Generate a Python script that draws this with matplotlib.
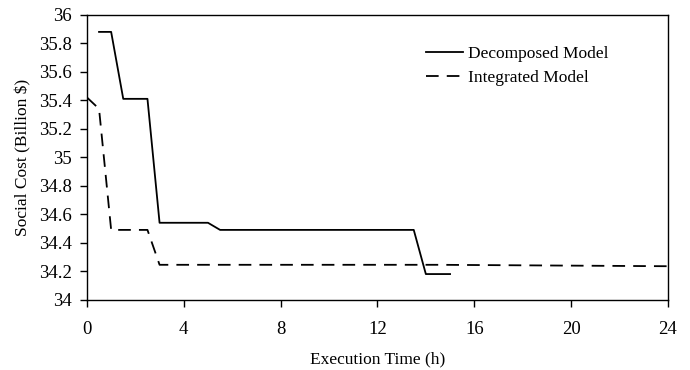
import matplotlib
matplotlib.use("Agg")
import matplotlib.pyplot as plt
from matplotlib.ticker import FuncFormatter


# ================================
# Data
# ================================
decomposed_time = [0.5, 1.0, 1.5, 2.5, 3.0, 5.0, 5.5, 13.5, 14.0, 15.0]
decomposed_cost = [35.88, 35.88, 35.41, 35.41, 34.54, 34.54, 34.49, 34.49, 34.18, 34.18]

integrated_time = [0.0, 0.5, 1.0, 2.5, 3.0, 14.5, 24.0]
integrated_cost = [35.42, 35.34, 34.49, 34.49, 34.245, 34.245, 34.235]

x_ticks = [0, 4, 8, 12, 16, 20, 24]
y_ticks = [34, 34.2, 34.4, 34.6, 34.8, 35, 35.2, 35.4, 35.6, 35.8, 36]


# ================================
# Plot
# ================================
plt.rcParams["font.family"] = ["Liberation Serif", "DejaVu Serif"]
plt.rcParams["font.size"] = 12.5

fig, ax = plt.subplots(figsize=(6.9, 3.7), dpi=100)
fig.subplots_adjust(left=0.126, right=0.968, top=0.96, bottom=0.19)

ax.plot(decomposed_time, decomposed_cost, color="black", lw=1.3,
        label="Decomposed Model")
ax.plot(integrated_time, integrated_cost, color="black", lw=1.3,
        dashes=(7, 4.5), label="Integrated Model")

ax.set_xlim(0, 24)
ax.set_ylim(34, 36)
ax.set_xticks(x_ticks)
ax.set_yticks(y_ticks)
ax.yaxis.set_major_formatter(FuncFormatter(lambda v, p: "%g" % round(v, 1)))
ax.tick_params(direction="out", length=5, width=1, labelsize=13.5)
ax.tick_params(axis="x", pad=10)
ax.tick_params(axis="y", pad=6)
for s in ax.spines.values():
    s.set_linewidth(1)

ax.set_xlabel("Execution Time (h)", labelpad=10)
ax.set_ylabel("Social Cost (Billion $)", labelpad=5)

ax.legend(loc="upper left", bbox_to_anchor=(0.557, 0.945), frameon=False,
          handlelength=2.1, handletextpad=0.3, labelspacing=0.45)

fig.savefig("out.png", dpi=100)
